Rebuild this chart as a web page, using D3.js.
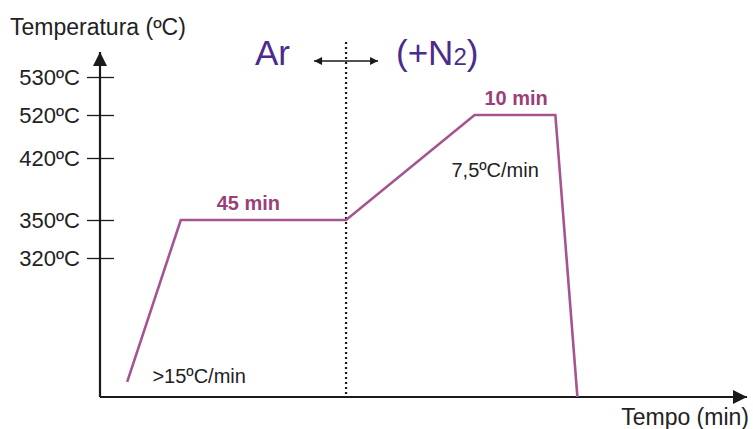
<!DOCTYPE html>
<html lang="pt">
<head>
<meta charset="utf-8">
<script src="https://d3js.org/d3.v7.min.js"></script>
<style>
  body { margin: 0; background: #fff; }
  svg { display: block; font-family: Arial, "Liberation Sans", sans-serif; }
</style>
</head>
<body>
<div id="grafico"></div>
<script>
    // tempo (min, esquemático) e temperatura (ºC) do ciclo
    const tempos = [7.4, 22, 67, 102, 124, 130];
    const temperaturas = [35, 350, 350, 520, 520, 0];
    const ticksTemp = [320, 350, 420, 520, 530];
    const rotulosTicks = ["320ºC", "350ºC", "420ºC", "520ºC", "530ºC"];
    const tempoTroca = 67; // passagem Ar -> (+N2)
    const patamares = [
        { texto: "45 min", t: 40.4, temp: 350 },
        { texto: "10 min", t: 113.3, temp: 520 }
    ];
    const taxas = [
        { texto: ">15ºC/min", t: 27, temp: 32 },
        { texto: "7,5ºC/min", t: 107.6, temp: 398 }
    ];

    const largura = 753, altura = 429;
    const roxo = "#a65490", roxoTexto = "#9a3f78", azul = "#4b2c8c";

    const svg = d3.select("#grafico").append("svg")
        .attr("width", largura).attr("height", altura);

    const x = d3.scaleLinear().domain([0, 177]).range([100, 750]);
    // eixo esquemático: escala por trechos
    const y = d3.scaleLinear()
        .domain([0, 320, 350, 420, 520, 530])
        .range([397, 258, 220, 158, 115, 77]);

    const defs = svg.append("defs");
    defs.append("marker").attr("id", "seta")
        .attr("viewBox", "0 0 10 10").attr("refX", 10).attr("refY", 5)
        .attr("markerWidth", 14).attr("markerHeight", 14).attr("markerUnits", "userSpaceOnUse")
        .attr("orient", "auto-start-reverse")
        .append("path").attr("d", "M0,0L10,5L0,10Z").attr("fill", "#1a1a1a");
    defs.append("marker").attr("id", "setaP")
        .attr("viewBox", "0 0 10 10").attr("refX", 10).attr("refY", 5)
        .attr("markerWidth", 10).attr("markerHeight", 8).attr("markerUnits", "userSpaceOnUse")
        .attr("orient", "auto-start-reverse")
        .append("path").attr("d", "M0,0L10,5L0,10Z").attr("fill", "#1a1a1a");

    // eixos
    svg.append("line")
        .attr("x1", x(0)).attr("y1", y(0)).attr("x2", x(0)).attr("y2", 52)
        .attr("stroke", "#1a1a1a").attr("stroke-width", 2.2)
        .attr("marker-end", "url(#seta)");
    svg.append("line")
        .attr("x1", x(0)).attr("y1", y(0)).attr("x2", x(177) - 3).attr("y2", y(0))
        .attr("stroke", "#1a1a1a").attr("stroke-width", 2.2)
        .attr("marker-end", "url(#seta)");

    const eixoY = d3.axisLeft(y).tickValues(ticksTemp)
        .tickFormat((d, i) => rotulosTicks[i]).tickSize(0).tickPadding(20);
    const gY = svg.append("g").attr("transform", `translate(${x(0)},0)`).call(eixoY);
    gY.select(".domain").remove();
    gY.selectAll(".tick line").attr("x1", -13).attr("x2", 14)
        .attr("stroke", "#1a1a1a").attr("stroke-width", 1.3);
    gY.selectAll(".tick text").attr("font-size", 22).attr("fill", "#222")
        .attr("font-family", "Arial, 'Liberation Sans', sans-serif");

    svg.append("text").attr("x", 10).attr("y", 35)
        .attr("font-size", 23).attr("fill", "#222").text("Temperatura (ºC)");
    svg.append("text").attr("x", 749).attr("y", 425).attr("text-anchor", "end")
        .attr("font-size", 23).attr("fill", "#222").text("Tempo (min)");

    // linha pontilhada de troca de gás
    svg.append("line")
        .attr("x1", x(tempoTroca)).attr("x2", x(tempoTroca))
        .attr("y1", 42).attr("y2", y(0))
        .attr("stroke", "#1a1a1a").attr("stroke-width", 2.2)
        .attr("stroke-dasharray", "2,3");
    svg.append("line")
        .attr("x1", x(tempoTroca) - 32).attr("x2", x(tempoTroca) + 32)
        .attr("y1", 61).attr("y2", 61)
        .attr("stroke", "#1a1a1a").attr("stroke-width", 1.5)
        .attr("marker-start", "url(#setaP)").attr("marker-end", "url(#setaP)");

    svg.append("text").attr("x", 255).attr("y", 65)
        .attr("font-size", 35).attr("fill", azul).text("Ar");
    const n2 = svg.append("text").attr("x", 396).attr("y", 65)
        .attr("font-size", 35).attr("fill", azul);
    n2.append("tspan").text("(+N");
    n2.append("tspan").attr("font-size", 24).text("2");
    n2.append("tspan").text(")");

    // ciclo térmico
    const dados = tempos.map((t, i) => [t, temperaturas[i]]);
    svg.append("path").datum(dados)
        .attr("d", d3.line().x(d => x(d[0])).y(d => y(d[1])))
        .attr("fill", "none").attr("stroke", roxo).attr("stroke-width", 2.6)
        .attr("stroke-linejoin", "miter");

    svg.selectAll(".patamar").data(patamares).join("text")
        .attr("class", "patamar")
        .attr("x", d => x(d.t)).attr("y", d => y(d.temp) - 10)
        .attr("text-anchor", "middle").attr("font-size", 20).attr("font-weight", "bold")
        .attr("fill", roxoTexto).text(d => d.texto);

    svg.selectAll(".taxa").data(taxas).join("text")
        .attr("class", "taxa")
        .attr("x", d => x(d.t)).attr("y", d => y(d.temp))
        .attr("text-anchor", "middle").attr("font-size", 20).attr("fill", "#222")
        .text(d => d.texto);
</script>
</body>
</html>
